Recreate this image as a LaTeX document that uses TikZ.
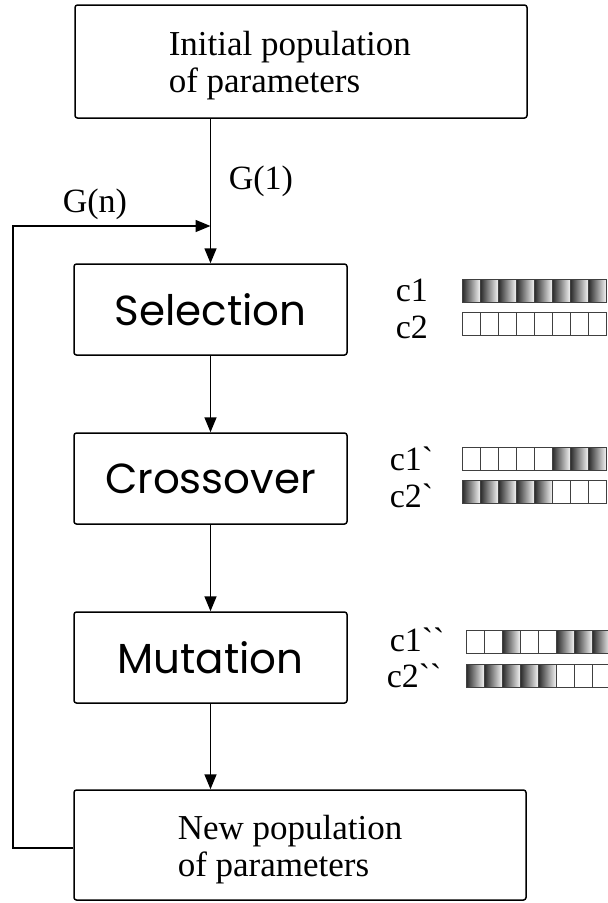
\documentclass[tikz,border=0pt]{standalone}
\usepackage{fontspec}
\setmainfont{Liberation Serif}
\newfontfamily\gothic{Poppins}
\usetikzlibrary{arrows.meta}
\begin{document}
\begin{tikzpicture}[x=1pt,y=-1pt,line width=1.5pt,
  box/.style={draw,rounded corners=2.5pt,inner sep=0pt},
  opbox/.style={box,minimum width=273pt,minimum height=91pt,font=\gothic\fontsize{42}{46}\selectfont},
  serif/.style={font=\fontsize{35}{37}\selectfont,inner sep=0pt},
  lbl/.style={font=\fontsize{34}{36}\selectfont,inner sep=0pt,anchor=base west},
  arr/.style={-{Triangle[length=15pt,width=12pt]}},
  cellline/.style={draw=black!75,line width=0.7pt}]
\useasboundingbox (0,0) rectangle (608,903);
\newcommand\chromrow[3]{%
  \foreach \v [count=\i from 0] in {#3}{%
    \ifnum\v=1
      \shade[left color=black!85,right color=black!5] ({#1+\i*18},#2) rectangle ({#1+\i*18+18},{#2+23});
    \fi
    \draw[cellline] ({#1+\i*18},#2) rectangle ({#1+\i*18+18},{#2+23});
  }}
% boxes
\node[box,minimum width=452pt,minimum height=113pt] (init) at (301,61.5) {};
\node[serif,align=left,anchor=west] (initT) at (168,66) {Initial population\\of parameters};
\node[opbox] (sel) at (210.5,309.5) {Selection};
\node[opbox] (cro) at (210.5,478.5) {Crossover};
\node[opbox] (mut) at (210.5,657.5) {Mutation};
\node[box,minimum width=452pt,minimum height=110pt] (newp) at (300,845) {};
\node[serif,align=left,anchor=west] (newT) at (177,850) {New population\\of parameters};
% connectors
\coordinate (j) at (210.5,226);
\draw (init.south -| j) -- (j);
\draw[arr] (j) -- (sel.north);
\draw[arr] (sel) -- (cro);
\draw[arr] (cro) -- (mut);
\draw[arr] (mut.south) -- (newp.north -| mut.south);
\draw[arr] (newp.west |- 0,848) -- (13,848) |- (j);
% labels
\node[lbl] (g1) at (228,189) {G(1)};
\node[lbl] (gn) at (62,212) {G(n)};
% chromosomes
\begin{scope}
\clip (380,260) rectangle (608,700);
\chromrow{462}{279}{1,1,1,1,1,1,1,1}
\chromrow{462}{312}{0,0,0,0,0,0,0,0}
\chromrow{462}{447}{0,0,0,0,0,1,1,1}
\chromrow{462}{480}{1,1,1,1,1,0,0,0}
\chromrow{466}{630}{0,0,1,0,0,1,1,1}
\chromrow{466}{664}{1,1,1,1,1,0,0,0}
\end{scope}
\node[lbl] (c1) at (395,301) {c1};
\node[lbl] (c2) at (395,338) {c2};
\node[lbl] (c1p) at (389,470) {c1\textasciigrave};
\node[lbl] (c2p) at (389,507) {c2\textasciigrave};
\node[lbl] (c1pp) at (389,651) {c1\textasciigrave\textasciigrave};
\node[lbl] (c2pp) at (386,687) {c2\textasciigrave\textasciigrave};
\end{tikzpicture}
\end{document}
